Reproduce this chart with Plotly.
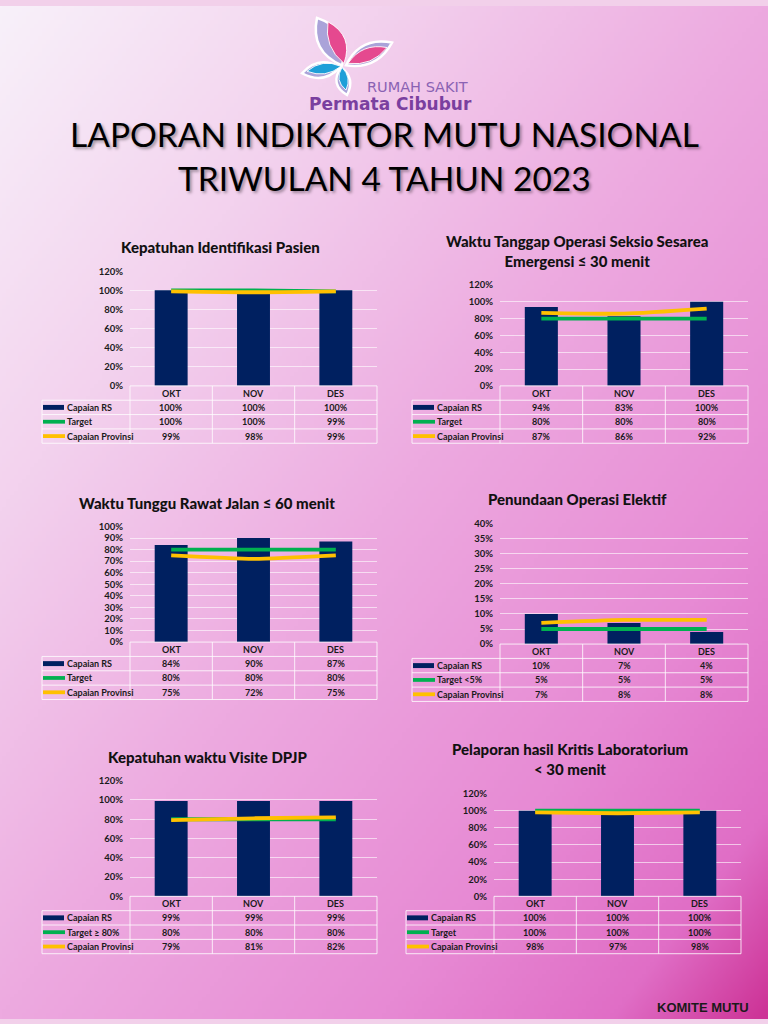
import base64
import struct
import zlib

import numpy as np
import plotly.graph_objects as go

W, H = 768, 1024

# ---------------- data ----------------
months = ["OKT", "NOV", "DES"]
series_labels = ["Capaian RS", "Target", "Capaian Provinsi"]

p1_title = "Kepatuhan Identifikasi Pasien"
p1_rs = [1.00, 1.00, 1.00]
p1_target = [1.00, 1.00, 0.99]
p1_prov = [0.99, 0.98, 0.99]
p1_target_label = "Target"

p2_title = "Waktu Tanggap Operasi Seksio Sesarea<br>Emergensi ≤ 30 menit"
p2_rs = [0.94, 0.83, 1.00]
p2_target = [0.80, 0.80, 0.80]
p2_prov = [0.87, 0.86, 0.92]
p2_target_label = "Target"

p3_title = "Waktu Tunggu Rawat Jalan ≤ 60 menit"
p3_rs = [0.84, 0.90, 0.87]
p3_target = [0.80, 0.80, 0.80]
p3_prov = [0.75, 0.72, 0.75]
p3_target_label = "Target"

p4_title = "Penundaan Operasi Elektif"
p4_rs = [0.10, 0.07, 0.04]
p4_target = [0.05, 0.05, 0.05]
p4_prov = [0.07, 0.08, 0.08]
p4_target_label = "Target &lt;5%"

p5_title = "Kepatuhan waktu Visite DPJP"
p5_rs = [0.99, 0.99, 0.99]
p5_target = [0.80, 0.80, 0.80]
p5_prov = [0.79, 0.81, 0.82]
p5_target_label = "Target ≥ 80%"

p6_title = "Pelaporan hasil Kritis Laboratorium<br>&lt; 30 menit"
p6_rs = [1.00, 1.00, 1.00]
p6_target = [1.00, 1.00, 1.00]
p6_prov = [0.98, 0.97, 0.98]
p6_target_label = "Target"

y_max = [1.2, 1.2, 1.0, 0.4, 1.2, 1.2]
y_step = [0.2, 0.2, 0.1, 0.05, 0.2, 0.2]

panels = [
    (p1_title, p1_rs, p1_target, p1_prov, p1_target_label),
    (p2_title, p2_rs, p2_target, p2_prov, p2_target_label),
    (p3_title, p3_rs, p3_target, p3_prov, p3_target_label),
    (p4_title, p4_rs, p4_target, p4_prov, p4_target_label),
    (p5_title, p5_rs, p5_target, p5_prov, p5_target_label),
    (p6_title, p6_rs, p6_target, p6_prov, p6_target_label),
]

# ---------------- layout geometry (pixels) ----------------
geo = [
    dict(x0=130, x1=377, ytop=268, ybot=384, tleft=42, tx=220, ty=244),
    dict(x0=500, x1=748, ytop=282, ybot=384, tleft=412, tx=577, ty=248),
    dict(x0=130, x1=377, ytop=526, ybot=643, tleft=42, tx=207, ty=502),
    dict(x0=500, x1=748, ytop=523, ybot=645, tleft=412, tx=577, ty=498),
    dict(x0=130, x1=377, ytop=783, ybot=900, tleft=42, tx=207, ty=759),
    dict(x0=494, x1=741, ytop=796, ybot=900, tleft=406, tx=570, ty=761),
]

NAVY = "#002060"
GREEN = "#00b050"
YELLOW = "#ffc000"
GRID = "rgba(255,255,255,0.6)"
TLINE = "rgba(255,255,255,0.8)"
TXT = "#1a1a1a"
FONT = "Lato"


def px(x):
    return x / W


def py(y):
    return 1 - y / H


# ---------------- background gradient (PNG data URI) ----------------
def png_uri(arr):
    h, w, _ = arr.shape
    raw = b"".join(b"\x00" + arr[r].tobytes() for r in range(h))

    def chunk(tag, data):
        return (struct.pack(">I", len(data)) + tag + data
                + struct.pack(">I", zlib.crc32(tag + data) & 0xFFFFFFFF))

    png = (b"\x89PNG\r\n\x1a\n"
           + chunk(b"IHDR", struct.pack(">IIBBBBB", w, h, 8, 2, 0, 0, 0))
           + chunk(b"IDAT", zlib.compress(raw, 9))
           + chunk(b"IEND", b""))
    return "data:image/png;base64," + base64.b64encode(png).decode()


gw, gh = 192, 256
gx, gy = np.meshgrid(np.linspace(0, 1, gw), np.linspace(0, 1, gh))
t = (gx + gy) / 2
stops = [0.0, 0.25, 0.5, 0.75, 0.9, 1.0]
R = [248, 243, 237, 231, 224, 205]
G = [241, 210, 170, 138, 110, 50]
B = [250, 238, 224, 212, 198, 150]
img = np.stack([np.interp(t, stops, R), np.interp(t, stops, G), np.interp(t, stops, B)], axis=-1)
img = np.clip(img, 0, 255).astype(np.uint8)
bg_uri = png_uri(img)

# ---------------- figure ----------------
fig = go.Figure()
layout = {}
shapes = []
annotations = []

RH = 14.5

for i, ((title, rs, target, prov, tlabel), g) in enumerate(zip(panels, geo)):
    k = i + 1
    xref = "x" if k == 1 else f"x{k}"
    yref = "y" if k == 1 else f"y{k}"
    xa = "xaxis" if k == 1 else f"xaxis{k}"
    ya = "yaxis" if k == 1 else f"yaxis{k}"

    layout[xa] = dict(domain=[px(g["x0"]), px(g["x1"])], range=[-0.5, 2.5],
                      showticklabels=False, showgrid=False, zeroline=False,
                      showline=False, fixedrange=True, anchor=yref)
    layout[ya] = dict(domain=[py(g["ybot"]), py(g["ytop"])], range=[0, y_max[i] * 1.001],
                      dtick=y_step[i], tick0=0, tickformat=".0%", showgrid=True,
                      gridcolor=GRID, gridwidth=1, zeroline=False, showline=False,
                      ticks="", ticklabelstandoff=6, fixedrange=True, anchor=xref,
                      tickfont=dict(family=FONT, size=9.5, color=TXT, weight="bold"))

    fig.add_trace(go.Bar(x=months, y=rs, width=0.4, marker=dict(color=NAVY, line_width=0),
                         xaxis=xref, yaxis=yref, showlegend=False, name=series_labels[0]))
    fig.add_trace(go.Scatter(x=months, y=target, mode="lines",
                             line=dict(color=GREEN, width=3.8, shape="spline", smoothing=0.6),
                             xaxis=xref, yaxis=yref, showlegend=False, name=tlabel))
    fig.add_trace(go.Scatter(x=months, y=prov, mode="lines",
                             line=dict(color=YELLOW, width=3.8, shape="spline", smoothing=0.6),
                             xaxis=xref, yaxis=yref, showlegend=False, name=series_labels[2]))

    # chart title
    annotations.append(dict(text=title, x=px(g["tx"]), y=py(g["ty"]), xref="paper", yref="paper",
                            showarrow=False, xanchor="center", yanchor="middle",
                            font=dict(family=FONT, size=15, color="#111111", weight=900)))

    # data table
    yb = g["ybot"]
    x0, x1, tl = g["x0"], g["x1"], g["tleft"]
    tfont = dict(family=FONT, size=9, color=TXT, weight="bold")
    for m in months:
        annotations.append(dict(text=m, x=m, xref=xref, y=py(yb + RH * 0.5), yref="paper",
                                showarrow=False, xanchor="center", yanchor="middle", font=tfont))
    rows = [rs, target, prov]
    labels = [series_labels[0], tlabel, series_labels[2]]
    for r, (vals, lab) in enumerate(zip(rows, labels)):
        yc = yb + RH * (r + 1.5)
        for m, v in zip(months, vals):
            annotations.append(dict(text=f"{round(v * 100)}%", x=m, xref=xref, y=py(yc), yref="paper",
                                    showarrow=False, xanchor="center", yanchor="middle", font=tfont))
        annotations.append(dict(text=lab, x=px(tl + 23), y=py(yc), xref="paper", yref="paper",
                                showarrow=False, xanchor="left", yanchor="middle", font=tfont))
        if r == 0:
            shapes.append(dict(type="rect", xref="paper", yref="paper",
                               x0=px(tl + 1), x1=px(tl + 22), y0=py(yc - 2.5), y1=py(yc + 2.5),
                               fillcolor=NAVY, line_width=0))
        else:
            shapes.append(dict(type="line", xref="paper", yref="paper",
                               x0=px(tl + 1), x1=px(tl + 23), y0=py(yc), y1=py(yc),
                               line=dict(color=GREEN if r == 1 else YELLOW, width=3.8)))
    # table lines
    shapes.append(dict(type="line", xref="paper", yref="paper", x0=px(x0), x1=px(x1),
                       y0=py(yb), y1=py(yb), line=dict(color=TLINE, width=1)))
    for r in range(1, 5):
        shapes.append(dict(type="line", xref="paper", yref="paper", x0=px(tl), x1=px(x1),
                           y0=py(yb + RH * r), y1=py(yb + RH * r), line=dict(color=TLINE, width=1)))
    shapes.append(dict(type="line", xref="paper", yref="paper", x0=px(tl), x1=px(tl),
                       y0=py(yb + RH), y1=py(yb + RH * 4), line=dict(color=TLINE, width=1)))
    for j in range(4):
        xx = x0 + (x1 - x0) * j / 3
        shapes.append(dict(type="line", xref="paper", yref="paper", x0=px(xx), x1=px(xx),
                           y0=py(yb), y1=py(yb + RH * 4), line=dict(color=TLINE, width=1)))


# ---------------- logo ----------------
def leaf(base, tip, w1, w2, fill, line_color, lw):
    bx, by = base
    tx, ty = tip
    dx, dy = tx - bx, ty - by
    ln = (dx * dx + dy * dy) ** 0.5
    nx, ny = -dy / ln, dx / ln
    mx, my = (bx + tx) / 2, (by + ty) / 2
    c1 = (mx + nx * w1, my + ny * w1)
    c2 = (mx - nx * w2, my - ny * w2)
    p = lambda q: f"{px(q[0]):.5f},{py(q[1]):.5f}"
    path = f"M {p(base)} Q {p(c1)} {p(tip)} Q {p(c2)} {p(base)} Z"
    return dict(type="path", xref="paper", yref="paper", path=path, fillcolor=fill,
                line=dict(color=line_color, width=lw), layer="above")


PINK = "#e5498f"
BLUE = "#1e9fd8"
LAV = "#aaa3d9"
logo = [
    leaf((342, 60), (317, 12), 26, 22, LAV, "white", 2.5),
    leaf((346, 60), (392, 37), 18, 20, LAV, "white", 2.5),
    leaf((340, 62), (302, 68), 16, 15, LAV, "white", 2.5),
    leaf((341, 62), (347, 90), 15, 12, LAV, "white", 2.5),
    leaf((344, 58), (328, 16), 19, 13, PINK, "rgba(255,255,255,0.9)", 1),
    leaf((348, 58), (387, 42), 12, 14, PINK, "rgba(255,255,255,0.9)", 1),
    leaf((341, 61), (307, 66), 11, 10, BLUE, "rgba(255,255,255,0.9)", 1),
    leaf((342, 62), (346, 85), 10, 8, BLUE, "rgba(255,255,255,0.9)", 1),
]
shapes.extend(logo)

annotations.append(dict(text="RUMAH SAKIT", x=px(417), y=py(82), xref="paper", yref="paper",
                        showarrow=False, xanchor="center", yanchor="middle",
                        font=dict(family="DejaVu Sans", size=14.5, color="#8a62b3")))
annotations.append(dict(text="Permata Cibubur", x=px(390), y=py(99), xref="paper", yref="paper",
                        showarrow=False, xanchor="center", yanchor="middle",
                        font=dict(family="DejaVu Sans", size=17, color="#7a3f9f", weight="bold")))

# ---------------- main titles ----------------
for txt, yy in [("LAPORAN INDIKATOR MUTU NASIONAL", 129), ("TRIWULAN 4 TAHUN 2023", 174)]:
    annotations.append(dict(text=txt, x=0.5, y=py(yy), xref="paper", yref="paper",
                            showarrow=False, xanchor="center", yanchor="middle",
                            font=dict(family=FONT, size=33.5, color="#000000",
                                      shadow="2px 2px 3px rgba(0,0,0,0.35)")))

annotations.append(dict(text="KOMITE MUTU", x=px(751), y=py(1012), xref="paper", yref="paper",
                        showarrow=False, xanchor="right", yanchor="middle",
                        font=dict(family="Liberation Sans", size=13, color="#1a1a1a", weight="bold")))

fig.update_layout(
    width=W, height=H, autosize=False,
    margin=dict(l=0, r=0, t=0, b=0),
    paper_bgcolor="#f2d0ea", plot_bgcolor="rgba(0,0,0,0)",
    bargap=0.6, showlegend=False,
    images=[dict(source=bg_uri, xref="paper", yref="paper", x=0, y=1, sizex=1, sizey=1,
                 sizing="stretch", xanchor="left", yanchor="top", layer="below")],
    shapes=shapes, annotations=annotations,
    **layout,
)

fig.write_html("out.html")
